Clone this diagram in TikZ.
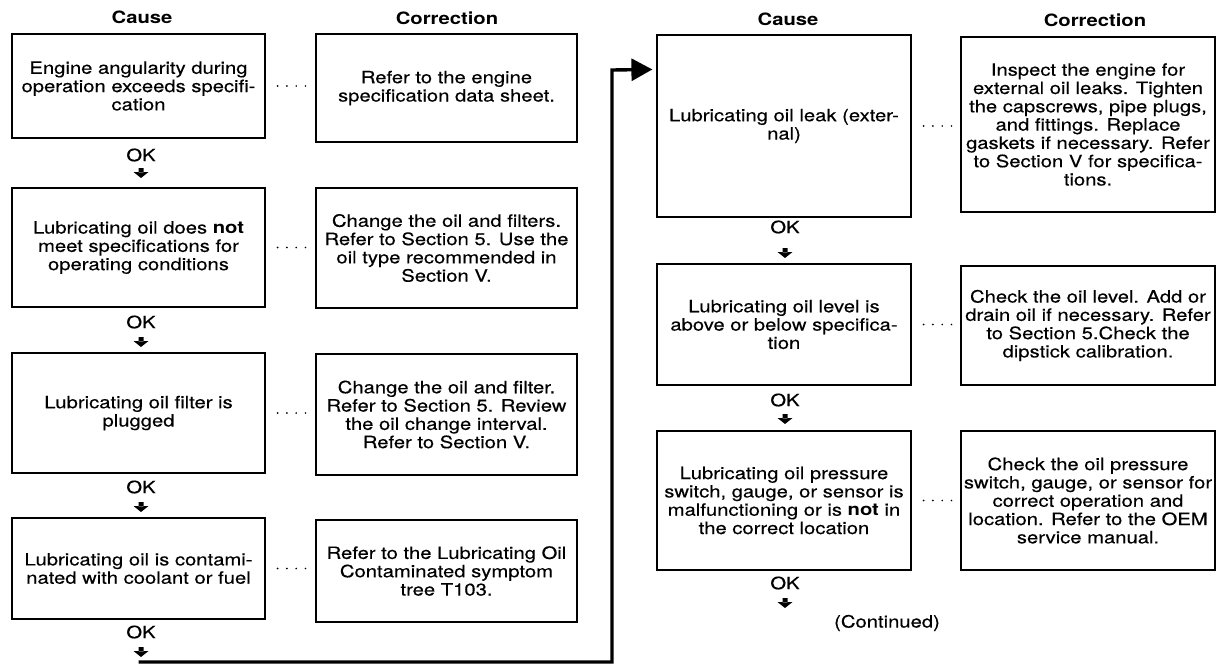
\documentclass[tikz,border=0pt]{standalone}
\usepackage{fontspec}
\setmainfont{TeX Gyre Heros}[FakeStretch=1.19, UprightFeatures={FakeBold=0.35}]
\usetikzlibrary{arrows.meta}
\begin{document}
\begin{tikzpicture}[x=1pt,y=-1pt,
  every node/.style={inner sep=0pt, font=\fontsize{17}{18.3}\selectfont},
  causebox/.style={draw, line width=1.2pt, align=center, minimum width=#1},
  causebox/.default=253pt,
  head/.style={font=\fontsize{17}{18.3}\selectfont\bfseries},
  oklabel/.style={},
  dotrow/.style={line width=1.9pt, line cap=round, dash pattern=on 0pt off 9.3pt,
                 shorten <=12pt, shorten >=6pt},
  looparr/.style={line width=3.4pt, line join=miter,
                  -{Triangle[width=22pt,length=21pt]}, shorten >=4pt}
]
\useasboundingbox (0,0) rectangle (1217,664);

% small filled down-arrow placed below an OK label
\newcommand{\okdown}[1]{%
  \fill (#1) ++(-2.5,-4) rectangle ++(5,4.5)
        (#1) ++(-7.5,0) -- ++(15,0) -- ++(-7.5,6) -- cycle;}

% column headings
\node[head] (hc1) at (142,17) {Cause};
\node[head] (hk1) at (447,18) {Correction};
\node[head] (hc2) at (788,19) {Cause};
\node[head] (hk2) at (1095,20) {Correction};

% left column: causes
\node[causebox, minimum height=104pt] (c1) at (138.5,86)
  {Engine angularity during\\operation exceeds specifi-\\cation};
\node[causebox, minimum height=119pt] (c2) at (138.5,247.5)
  {Lubricating oil does \textbf{not}\\meet specifications for\\operating conditions};
\node[causebox, minimum height=120pt] (c3) at (138.5,413)
  {Lubricating oil filter is\\plugged};
\node[causebox, minimum height=101pt] (c4) at (138.5,568.5)
  {Lubricating oil is contami-\\nated with coolant or fuel};

% left column: corrections
\node[causebox=261pt, minimum height=108pt] (k1) at (446.5,88)
  {Refer to the engine\\specification data sheet.};
\node[causebox=261pt, minimum height=120pt] (k2) at (446.5,248)
  {Change the oil and filters.\\Refer to Section 5. Use the\\oil type recommended in\\Section V.};
\node[causebox=261pt, minimum height=121pt] (k3) at (446.5,414.5)
  {Change the oil and filter.\\Refer to Section 5. Review\\the oil change interval.\\Refer to Section V.};
\node[causebox=261pt, minimum height=102pt] (k4) at (446.5,571)
  {Refer to the Lubricating Oil\\Contaminated symptom\\tree T103.};

% right column: causes
\node[causebox=254pt, minimum height=182pt] (r1) at (784,126)
  {Lubricating oil leak (exter-\\nal)};
\node[causebox=254pt, minimum height=121pt] (r2) at (784,324.5)
  {Lubricating oil level is\\above or below specifica-\\tion};
\node[causebox=254pt, minimum height=139pt] (r3) at (784,500.5)
  {Lubricating oil pressure\\switch, gauge, or sensor is\\malfunctioning or is \textbf{not} in\\the correct location};

% right column: corrections
\node[causebox=254pt, minimum height=175pt] (s1) at (1088,124.5)
  {Inspect the engine for\\external oil leaks. Tighten\\the capscrews, pipe plugs,\\and fittings. Replace\\gaskets if necessary. Refer\\to Section V for specifica-\\tions.};
\node[causebox=254pt, minimum height=119pt] (s2) at (1088,325.5)
  {Check the oil level. Add or\\drain oil if necessary. Refer\\to Section 5.Check the\\dipstick calibration.};
\node[causebox=254pt, minimum height=139pt] (s3) at (1088,500.5)
  {Check the oil pressure\\switch, gauge, or sensor for\\correct operation and\\location. Refer to the OEM\\service manual.};

% dotted leaders from cause to correction
\foreach \a/\b in {c1/k1,c2/k2,c3/k3,c4/k4,r1/s1,r2/s2,r3/s3}
  \draw[dotrow] (\a.east) -- (\a.east -| \b.west);

% OK labels
\node[oklabel] (ok1) at (141,155) {OK};
\node[oklabel] (ok2) at (141,322) {OK};
\node[oklabel] (ok3) at (141,487) {OK};
\node[oklabel] (ok4) at (141,632) {OK};
\node[oklabel] (ok5) at (785,227) {OK};
\node[oklabel] (ok6) at (785,400) {OK};
\node[oklabel] (ok7) at (785,583) {OK};

% small down arrows under each OK
\path (ok1.center) ++(0,17) coordinate (d1);
\path (ok2.center) ++(0,19) coordinate (d2);
\path (ok3.center) ++(0,19) coordinate (d3);
\path (ok4.center) ++(0,19) coordinate (d4);
\path (ok5.center) ++(0,25) coordinate (d5);
\path (ok6.center) ++(0,18) coordinate (d6);
\path (ok7.center) ++(0,19) coordinate (d7);
\foreach \d in {d1,d2,d3,d4,d5,d6,d7} {\okdown{\d}}

\node (cont) at (887,623) {(Continued)};

% return line from the bottom of the left column to the top of the right one
\coordinate (loopstart) at (138.5,662);
\coordinate (loopcorner) at (612,662);
\draw[looparr] (loopstart) -- (loopcorner) -- (loopcorner |- 0,70)
  -- ([yshift=-35pt]r1.north west);
\end{tikzpicture}
\end{document}
